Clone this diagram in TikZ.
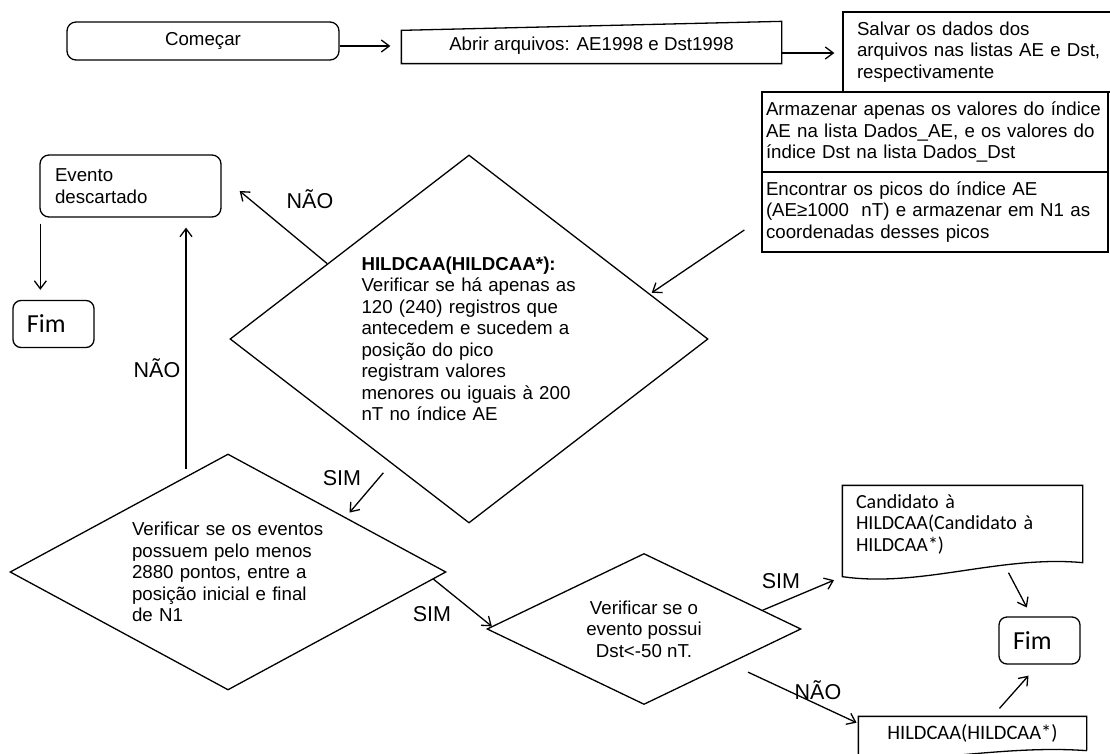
\documentclass[tikz,border=0pt]{standalone}
\usepackage{fontspec}
\setmainfont{Liberation Sans}
\newfontfamily\calibri{Carlito}
\usetikzlibrary{shapes.geometric,arrows.meta,positioning}

\begin{document}
\begin{tikzpicture}[x=1pt,y=-1pt,line width=1.3pt,
  every node/.style={font=\fontsize{18.7}{21.5}\selectfont,inner sep=0pt},
  seta/.style={-{Straight Barb[length=8pt,width=12pt]}},
  caixa/.style={draw,align=left,minimum height=#1},
  redonda/.style={draw,rounded corners=9pt,align=left,minimum height=#1},
  losango/.style={draw,diamond,align=left},
  rotulo/.style={font=\fontsize{21.5}{24}\selectfont},
  fim/.style={draw,rounded corners=8pt,align=left,font=\calibri\fontsize{26}{28}\selectfont,
    inner xsep=14pt,text width=53pt,minimum height=47pt}]
\useasboundingbox (0,0) rectangle (1110,754);

\node[redonda=38pt,minimum width=272pt,align=center] (comecar) at (203,41) {Começar};
\node[minimum width=379pt,minimum height=34pt] (abrir) at (591.5,46) {Abrir arquivos: AE1998 e Dst1998};
\draw (abrir.south west) -- ([yshift=-2pt]abrir.north west) -- ([yshift=7pt]abrir.north east) -- (abrir.south east) -- cycle;
\node[caixa=80pt,inner xsep=14pt,text width=262pt] (salvar) at (988,52) {Salvar os dados dos\\arquivos nas listas AE e Dst,\\respectivamente};
\node[caixa=80pt,inner xsep=4pt,text width=338pt] (armazenar) at (935,132) {Armazenar apenas os valores do índice\\AE na lista Dados\_AE, e os valores do\\índice Dst na lista Dados\_Dst};
\node[caixa=80pt,inner xsep=4pt,text width=338pt] (encontrar) at (935,212) {Encontrar os picos do índice AE\\(AE≥1000\ \ nT) e armazenar em N1 as\\coordenadas desses picos};

\node[redonda=62pt,inner xsep=15pt,text width=151pt] (evento) at (130.5,186) {Evento\\descartado};
\node[fim] (fim1) at (53.5,324) {Fim};

\node[losango,aspect=1.3,minimum width=478pt,minimum height=368pt,text width=215pt] (verif1) at (469,339) {\textbf{HILDCAA(HILDCAA*):}\\Verificar se há apenas as\\120 (240) registros que\\antecedem e sucedem a\\posição do pico\\registram valores\\menores ou iguais à 200\\nT no índice AE};
\node[losango,aspect=1.85,minimum width=436pt,minimum height=236pt,text width=192pt] (verif2) at (228,572) {Verificar se os eventos\\possuem pelo menos\\2880 pontos, entre a\\posição inicial e final\\de N1};
\node[losango,aspect=2.1,align=center,minimum width=314pt,minimum height=151pt] (verif3) at (644,629) {Verificar se o\\evento possui\\Dst<-50 nT.};

\node[minimum width=239pt,minimum height=76pt,inner xsep=13pt,text width=213pt,align=left,
  font=\calibri\fontsize{20}{21.5}\selectfont] (candidato) at (962.5,524) {Candidato à\\HILDCAA(Candidato à\\HILDCAA*)};
\draw (candidato.north west) -- (candidato.north east) -- (candidato.south east)
  .. controls (1000,555) and (920,588) .. ([yshift=-14pt]candidato.south west) -- cycle;
\node[fim] (fim2) at (1039.5,640.5) {Fim};
\node[minimum width=227pt,minimum height=33pt,font=\calibri\fontsize{20.5}{22}\selectfont] (hildcaa) at (972.5,733.5) {HILDCAA(HILDCAA*)};
\draw (hildcaa.south east) -- (hildcaa.north east) -- (hildcaa.north west) -- ([yshift=-10pt]hildcaa.south west)
  .. controls (930,762) and (1010,745) .. (hildcaa.south east);

\draw[seta,shorten >=11pt] (comecar.east |- abrir.center) -- (abrir.west);
\draw[seta,shorten >=8pt] ([yshift=-7pt]abrir.east) -- ([yshift=-7pt]abrir.east -| salvar.west);
\draw[seta,shorten >=2pt] ([shift={(-17,18)}]encontrar.west) -- (verif1.14);
\draw[seta] (verif1.152) -- ([shift={(18,5)}]evento.east);
\node[rotulo] (nao1) at (310,199) {NÃO};
\draw[seta,shorten >=10pt] ([shift={(1,6)}]evento.south west) -- ([xshift=1pt]evento.south west |- fim1.north);
\coordinate (subida) at (186,469);
\draw[seta,shorten >=10pt] (subida) -- (subida |- evento.south);
\node[rotulo] (nao2) at (157,368) {NÃO};
\draw[seta,shorten <=12pt,shorten >=6pt] (verif1.238) -- (verif2.25);
\node[rotulo] (sim1) at (342,478) {SIM};
\draw[seta] (verif2.-2) -- (verif3.179);
\node[rotulo] (sim2) at (432,614) {SIM};
\draw[seta,shorten >=9pt] (verif3.9) -- ([yshift=-14pt]candidato.south west);
\node[rotulo] (sim3) at (781,581) {SIM};
\draw[seta,shorten <=20pt,shorten >=2pt] (verif3.-22) -- (hildcaa.175);
\node[rotulo] (nao3) at (818,690) {NÃO};
\draw[seta,shorten >=10pt] ([shift={(46,10)}]candidato.south) -- ([xshift=-8pt]fim2.north);
\draw[seta] ([shift={(27,-8)}]hildcaa.north) -- ([shift={(-11,11)}]fim2.south);
\end{tikzpicture}
\end{document}
